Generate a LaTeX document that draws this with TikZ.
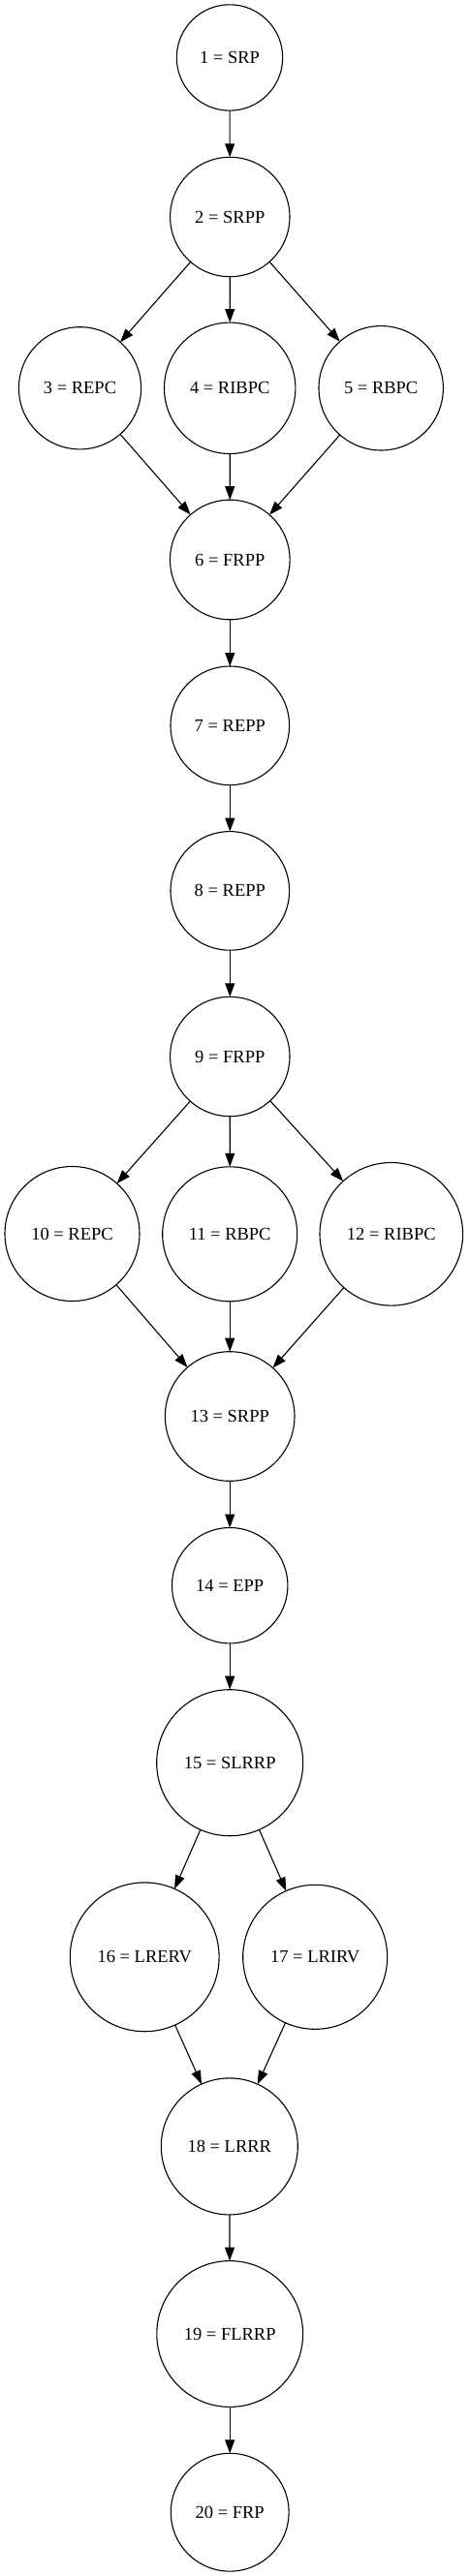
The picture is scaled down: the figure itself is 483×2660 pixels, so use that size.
\documentclass[tikz,border=0pt]{standalone}
\usepackage{fontspec}
\setmainfont{Liberation Serif}
\usetikzlibrary{arrows.meta}
\begin{document}
\begin{tikzpicture}[x=1pt,y=-1pt,
  st/.style={draw,circle,inner sep=0pt,outer sep=0pt,line width=1.1pt,font=\fontsize{18.5}{22}\selectfont},
  ar/.style={-{Triangle[length=14pt,width=10pt]},line width=1.1pt}]
\useasboundingbox (0,0) rectangle (483,2660);
\node[st,minimum size=109.4pt] (n1) at (237,59.5) {1 = SRP};
\node[st,minimum size=123.4pt] (n2) at (237.3,224) {2 = SRPP};
\node[st,minimum size=126.2pt] (n3) at (82.5,400.8) {3 = REPC};
\node[st,minimum size=135.4pt] (n4) at (237.2,400.8) {4 = RIBPC};
\node[st,minimum size=128.4pt] (n5) at (393.2,400.8) {5 = RBPC};
\node[st,minimum size=123.6pt] (n6) at (237.3,578) {6 = FRPP};
\node[st,minimum size=122.6pt] (n7) at (237.3,749.3) {7 = REPP};
\node[st,minimum size=122.6pt] (n8) at (237.3,919.9) {8 = REPP};
\node[st,minimum size=123.4pt] (n9) at (237.3,1091) {9 = FRPP};
\node[st,minimum size=139pt] (n10) at (74.5,1274) {10 = REPC};
\node[st,minimum size=139pt] (n11) at (237.2,1274.3) {11 = RBPC};
\node[st,minimum size=147.6pt] (n12) at (403.8,1274.3) {12 = RIBPC};
\node[st,minimum size=133.6pt] (n13) at (237.2,1462.5) {13 = SRPP};
\node[st,minimum size=119.4pt] (n14) at (237.2,1637.2) {14 = EPP};
\node[st,minimum size=151pt] (n15) at (237.2,1820.2) {15 = SLRRP};
\node[st,minimum size=153.8pt] (n16) at (149.2,2020.8) {16 = LRERV};
\node[st,minimum size=149pt] (n17) at (325.2,2020.8) {17 = LRIRV};
\node[st,minimum size=141pt] (n18) at (236.8,2216.4) {18 = LRRR};
\node[st,minimum size=150.8pt] (n19) at (237.2,2410) {19 = FLRRP};
\node[st,minimum size=121.8pt] (n20) at (237.2,2594.2) {20 = FRP};
\draw[ar] (n1) -- (n2);
\draw[ar] (n2) -- (n3);
\draw[ar] (n2) -- (n4);
\draw[ar] (n2) -- (n5);
\draw[ar] (n3) -- (n6);
\draw[ar] (n4) -- (n6);
\draw[ar] (n5) -- (n6);
\draw[ar] (n6) -- (n7);
\draw[ar] (n7) -- (n8);
\draw[ar] (n8) -- (n9);
\draw[ar] (n9) -- (n10);
\draw[ar] (n9) -- (n11);
\draw[ar] (n9) -- (n12);
\draw[ar] (n10) -- (n13);
\draw[ar] (n11) -- (n13);
\draw[ar] (n12) -- (n13);
\draw[ar] (n13) -- (n14);
\draw[ar] (n14) -- (n15);
\draw[ar] (n15) -- (n16);
\draw[ar] (n15) -- (n17);
\draw[ar] (n16) -- (n18);
\draw[ar] (n17) -- (n18);
\draw[ar] (n18) -- (n19);
\draw[ar] (n19) -- (n20);
\end{tikzpicture}
\end{document}
